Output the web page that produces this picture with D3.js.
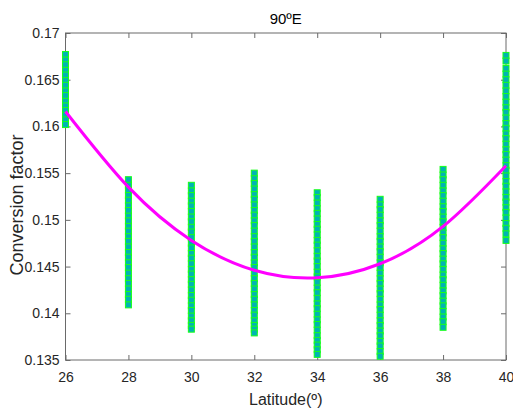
<!DOCTYPE html>
<html>
<head>
<meta charset="utf-8">
<script src="https://cdn.jsdelivr.net/npm/d3@7"></script>
<style>
  html, body { margin: 0; padding: 0; background: #fff; }
  svg { display: block; font-family: "Liberation Sans", Arial, sans-serif; }
</style>
</head>
<body>
<svg id="chart" width="513" height="412"></svg>
<script>
// Latitudes (degrees) of each sample column
const latitudes = [26, 28, 30, 32, 34, 36, 38, 40];

// Conversion factor samples at each latitude
const samples26 = [0.1677, 0.1671, 0.1666, 0.1660, 0.1655, 0.1649, 0.1644, 0.1638, 0.1633, 0.1627, 0.1622, 0.1617, 0.1612, 0.1607, 0.1602];
const samples28 = [0.1543, 0.1537, 0.1532, 0.1526, 0.1521, 0.1515, 0.1510, 0.1504, 0.1499, 0.1493, 0.1488, 0.1482, 0.1477, 0.1471, 0.1465, 0.1460, 0.1454, 0.1449, 0.1443, 0.1437, 0.1432, 0.1426, 0.1420, 0.1415, 0.1409];
const samples30 = [0.1537, 0.1531, 0.1526, 0.1520, 0.1515, 0.1509, 0.1503, 0.1498, 0.1492, 0.1487, 0.1481, 0.1475, 0.1470, 0.1464, 0.1459, 0.1453, 0.1447, 0.1442, 0.1436, 0.1431, 0.1425, 0.1419, 0.1414, 0.1408, 0.1403, 0.1397, 0.1392, 0.1387, 0.1383];
const samples32 = [0.1550, 0.1544, 0.1539, 0.1533, 0.1527, 0.1522, 0.1516, 0.1510, 0.1505, 0.1499, 0.1494, 0.1488, 0.1482, 0.1477, 0.1471, 0.1465, 0.1460, 0.1454, 0.1449, 0.1443, 0.1437, 0.1432, 0.1426, 0.1420, 0.1415, 0.1409, 0.1403, 0.1398, 0.1392, 0.1387, 0.1383, 0.1379];
const samples34 = [0.1529, 0.1524, 0.1518, 0.1512, 0.1507, 0.1501, 0.1495, 0.1490, 0.1484, 0.1478, 0.1473, 0.1467, 0.1461, 0.1456, 0.1450, 0.1444, 0.1439, 0.1433, 0.1427, 0.1422, 0.1416, 0.1410, 0.1405, 0.1399, 0.1393, 0.1388, 0.1382, 0.1376, 0.1371, 0.1366, 0.1361, 0.1356];
const samples36 = [0.1522, 0.1516, 0.1511, 0.1505, 0.1499, 0.1494, 0.1488, 0.1482, 0.1477, 0.1471, 0.1466, 0.1460, 0.1454, 0.1449, 0.1443, 0.1437, 0.1432, 0.1426, 0.1421, 0.1415, 0.1409, 0.1404, 0.1398, 0.1392, 0.1387, 0.1381, 0.1376, 0.1370, 0.1365, 0.1359, 0.1354];
const samples38 = [0.1554, 0.1548, 0.1543, 0.1537, 0.1531, 0.1526, 0.1520, 0.1514, 0.1509, 0.1503, 0.1498, 0.1492, 0.1486, 0.1481, 0.1475, 0.1469, 0.1464, 0.1458, 0.1453, 0.1447, 0.1441, 0.1436, 0.1430, 0.1424, 0.1419, 0.1413, 0.1408, 0.1402, 0.1396, 0.1391, 0.1385];
const samples40 = [0.1676, 0.1670, 0.1662, 0.1656, 0.1650, 0.1644, 0.1638, 0.1632, 0.1626, 0.1620, 0.1615, 0.1609, 0.1603, 0.1598, 0.1592, 0.1587, 0.1581, 0.1575, 0.1570, 0.1564, 0.1558, 0.1553, 0.1547, 0.1541, 0.1536, 0.1530, 0.1524, 0.1519, 0.1513, 0.1508, 0.1502, 0.1496, 0.1491, 0.1485, 0.1478];

// Fitted trend (quadratic fit) evaluated at each latitude
const fitLatitudes = [26, 28, 30, 32, 34, 36, 38, 40];
const fitValues = [0.1616, 0.1535, 0.1478, 0.1446, 0.1438, 0.1453, 0.1493, 0.1558];

// Axis ticks
const xTicks = [26, 28, 30, 32, 34, 36, 38, 40];
const yTicks = [0.135, 0.14, 0.145, 0.15, 0.155, 0.16, 0.165, 0.17];
const yTickLabels = ["0.135", "0.14", "0.145", "0.15", "0.155", "0.16", "0.165", "0.17"];

const chartTitle = "90ºE";
const xTitle = "Latitude(º)";
const yTitle = "Conversion factor";

const sampleColumns = [samples26, samples28, samples30, samples32, samples34, samples36, samples38, samples40];

const svg = d3.select("#chart");
const plotLeft = 65.5, plotRight = 506, plotTop = 33, plotBottom = 360;

const x = d3.scaleLinear().domain([26, 40]).range([plotLeft, plotRight]);
const y = d3.scaleLinear().domain([0.135, 0.17]).range([plotBottom, plotTop]);

const axisColor = "#6a6a6a";
const textColor = "#262626";
const tickLen = 5;

// Frame
svg.append("rect")
  .attr("x", plotLeft).attr("y", plotTop)
  .attr("width", plotRight - plotLeft).attr("height", plotBottom - plotTop)
  .attr("fill", "none").attr("stroke", axisColor).attr("stroke-width", 1);

// Axes with inward ticks
const gx = svg.append("g").attr("transform", `translate(0,${plotBottom})`)
  .call(d3.axisBottom(x).tickValues(xTicks).tickSizeInner(-tickLen).tickSizeOuter(0).tickPadding(12));
const gxTop = svg.append("g").attr("transform", `translate(0,${plotTop})`)
  .call(d3.axisTop(x).tickValues(xTicks).tickSizeInner(-tickLen).tickSizeOuter(0).tickFormat(""));
const gy = svg.append("g").attr("transform", `translate(${plotLeft},0)`)
  .call(d3.axisLeft(y).tickValues(yTicks).tickSizeInner(-tickLen).tickSizeOuter(0).tickPadding(6)
    .tickFormat((d, i) => yTickLabels[i]));
const gyRight = svg.append("g").attr("transform", `translate(${plotRight},0)`)
  .call(d3.axisRight(y).tickValues(yTicks).tickSizeInner(-tickLen).tickSizeOuter(0).tickFormat(""));

[gx, gxTop, gy, gyRight].forEach(g => {
  g.select(".domain").remove();
  g.selectAll(".tick line").attr("stroke", axisColor);
  g.selectAll(".tick text")
    .attr("fill", textColor)
    .style("font-size", "14px")
    .style("font-family", "'Liberation Sans', Arial, sans-serif");
});

// Sample markers: stacked squares per latitude
const markerSize = 6;
const points = [];
latitudes.forEach((lat, i) => {
  sampleColumns[i].forEach(v => points.push({ lat, v }));
});
svg.append("g").selectAll("rect")
  .data(points)
  .join("rect")
  .attr("x", d => x(d.lat) - markerSize / 2)
  .attr("y", d => y(d.v) - markerSize / 2)
  .attr("width", markerSize)
  .attr("height", markerSize)
  .attr("fill", "#00b3b3")
  .attr("stroke", "#19ff19")
  .attr("stroke-width", 1);

// Fitted curve
const line = d3.line()
  .x((d, i) => x(fitLatitudes[i]))
  .y(d => y(d))
  .curve(d3.curveNatural);
svg.append("path")
  .datum(fitValues)
  .attr("d", line)
  .attr("fill", "none")
  .attr("stroke", "#ff00ff")
  .attr("stroke-width", 3);

// Titles
svg.append("text")
  .attr("x", (plotLeft + plotRight) / 2).attr("y", 24)
  .attr("text-anchor", "middle")
  .attr("fill", "#000")
  .style("font-size", "15px")
  .text(chartTitle);

svg.append("text")
  .attr("x", (plotLeft + plotRight) / 2).attr("y", 405)
  .attr("text-anchor", "middle")
  .attr("fill", textColor)
  .style("font-size", "16px")
  .text(xTitle);

svg.append("text")
  .attr("transform", "translate(23,205) rotate(-90)")
  .attr("text-anchor", "middle")
  .attr("fill", textColor)
  .style("font-size", "18px")
  .text(yTitle);
</script>
</body>
</html>
